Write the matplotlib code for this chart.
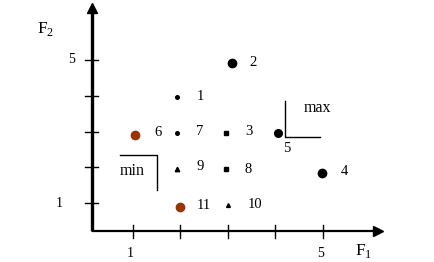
import matplotlib.pyplot as plt

# points: number, F1, F2
labels = ["1", "2", "3", "4", "5", "6", "7", "8", "9", "10", "11"]
f1 = [1.93, 3.08, 2.95, 4.98, 4.05, 1.05, 1.93, 2.95, 1.93, 3.0, 2.0]
f2 = [3.97, 4.92, 2.97, 1.85, 2.97, 2.9, 2.97, 1.95, 1.96, 0.95, 0.9]
sizes = [2.6, 6, 3, 6, 5.5, 6, 2.6, 3, 3.2, 2.8, 6]
marks = ["o", "o", "s", "o", "o", "o", "o", "s", "^", "^", "o"]
colors = ["k", "k", "k", "k", "k", "#993300", "k", "k", "k", "k", "#993300"]
# label offsets in data units
dx = [0.48, 0.45, 0.5, 0.48, 0.18, 0.48, 0.48, 0.48, 0.48, 0.57, 0.5]
dy = [0.0, 0.0, 0.03, 0.02, -0.45, 0.08, 0.03, 0.0, 0.05, 0.0, 0.02]

xticks = [1, 2, 3, 4, 5]
yticks = [1, 2, 3, 4, 5]

plt.rcParams["font.family"] = ["Liberation Serif", "DejaVu Serif"]
plt.rcParams["mathtext.fontset"] = "custom"
plt.rcParams["mathtext.rm"] = "Liberation Serif"

fig = plt.figure(figsize=(4.35, 2.62), dpi=100)
ax = fig.add_axes([0, 0, 1, 1])
ax.set_xlim(-1.8, 7.358)
ax.set_ylim(-0.65, 6.678)
ax.axis("off")

x0, y0 = 0.137, 0.217
# axes with arrows
ax.plot([x0, x0], [y0, 6.4], color="k", lw=2.4, solid_capstyle="butt")
ax.plot([x0, 6.1], [y0, y0], color="k", lw=1.6, solid_capstyle="butt")
ax.plot(x0, 6.45, marker="^", color="k", ms=7)
ax.plot(6.15, y0, marker=">", color="k", ms=7)

# ticks
for t in yticks:
    ax.plot([x0 - 0.15, x0 + 0.13], [t, t], color="k", lw=1)
for t in xticks:
    ax.plot([t, t], [y0 - 0.2, y0 + 0.17], color="k", lw=1)

ax.text(x0 - 0.42, 5, "5", fontsize=10, ha="center", va="center")
ax.text(x0 - 0.68, 1, "1", fontsize=10, ha="center", va="center")
ax.text(0.95, -0.4, "1", fontsize=10, ha="center", va="center")
ax.text(4.95, -0.4, "5", fontsize=10, ha="center", va="center")
ax.text(5.85, -0.33, r"F$_\mathrm{1}$", fontsize=12.5, ha="center", va="center")
ax.text(-0.85, 5.88, r"F$_\mathrm{2}$", fontsize=12.5, ha="center", va="center")

for i in range(len(labels)):
    ax.plot(f1[i], f2[i], marker=marks[i], color=colors[i], ms=sizes[i],
            ls="none")
    ax.text(f1[i] + dx[i], f2[i] + dy[i], labels[i], fontsize=10.5,
            ha="center", va="center")

# min / max brackets
ax.plot([0.73, 1.5, 1.5], [2.35, 2.35, 1.37], color="k", lw=1)
ax.text(0.98, 1.9, "min", fontsize=11.5, ha="center", va="center")
ax.plot([4.2, 4.2, 4.93], [3.85, 2.86, 2.86], color="k", lw=1)
ax.text(4.88, 3.65, "max", fontsize=11.5, ha="center", va="center")

fig.savefig("out.png", dpi=100)
